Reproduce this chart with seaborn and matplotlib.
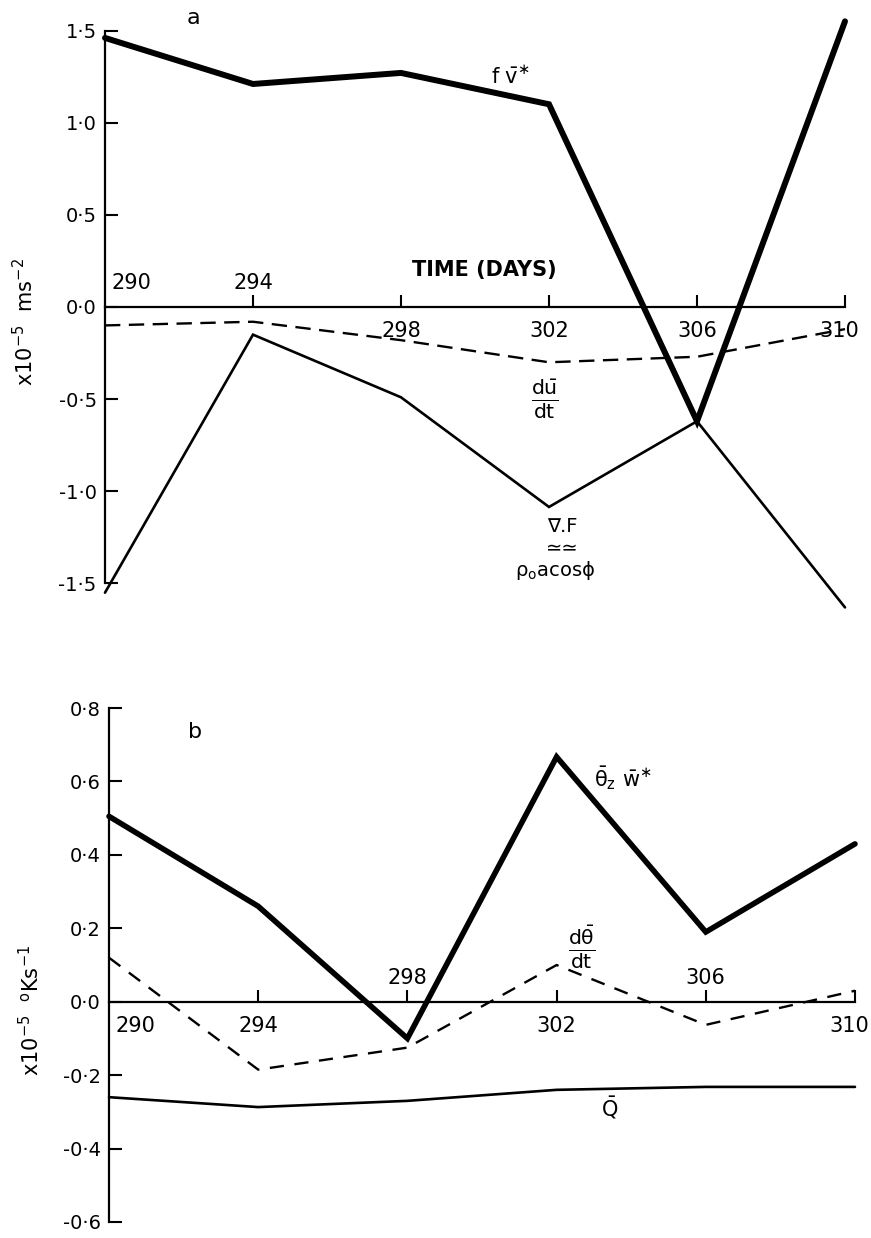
import numpy as np
import pandas as pd
import matplotlib
matplotlib.use('Agg')
import matplotlib.pyplot as plt
import seaborn as sns
from matplotlib.ticker import FuncFormatter

#%% data
days = [290, 294, 298, 302, 306, 310]

# panel a, x10^-5 m s^-2
fv_star = [1.46, 1.21, 1.27, 1.10, -0.62, 1.55]
du_dt = [-0.10, -0.08, -0.18, -0.30, -0.27, -0.12]
div_f = [-1.55, -0.15, -0.49, -1.085, -0.62, -1.63]

# panel b, x10^-5 K s^-1
thz_w = [0.505, 0.26, -0.10, 0.667, 0.19, 0.43]
dth_dt = [0.12, -0.185, -0.125, 0.10, -0.063, 0.03]
q_bar = [-0.26, -0.287, -0.27, -0.24, -0.232, -0.232]

yticks_a = [-1.5, -1.0, -0.5, 0.0, 0.5, 1.0, 1.5]
yticks_b = [-0.6, -0.4, -0.2, 0.0, 0.2, 0.4, 0.6, 0.8]
xticks = [294, 298, 302, 306, 310]
# day label above (1) or below (-1) the time axis
side_a = [1, 1, -1, -1, -1, -1]
side_b = [-1, -1, 1, -1, 1, -1]

#%% style
sns.set_style('ticks')
plt.rcParams['font.family'] = ['DejaVu Sans']
plt.rcParams['text.color'] = 'k'
plt.rcParams['mathtext.default'] = 'regular'
plt.rcParams['mathtext.fontset'] = 'dejavusans'

fmt = FuncFormatter(lambda v, p: f'{v:.1f}'.replace('.', '\u00b7'))

fig = plt.figure(figsize=(8.71, 12.38), dpi=100)
ax_a = fig.add_axes([0.12055, 0.50638, 0.8496, 0.48384])
ax_b = fig.add_axes([0.12514, 0.0070, 0.85649, 0.42700])


def style_axis(ax, ylim, yticks, side):
    ax.set_xlim(290, 310)
    ax.set_ylim(*ylim)
    for s in ['top', 'right']:
        ax.spines[s].set_visible(False)
    ax.spines['bottom'].set_position(('data', 0))
    ax.spines['bottom'].set_bounds(290, 310)
    ax.spines['left'].set_bounds(yticks[0], yticks[-1])
    for s in ['bottom', 'left']:
        ax.spines[s].set_linewidth(1.6)
        ax.spines[s].set_color('k')
    ax.set_xticks(xticks)
    ax.set_yticks(yticks)
    ax.yaxis.set_major_formatter(fmt)
    ax.tick_params(axis='both', direction='in', length=9, width=1.5,
                   labelsize=14, colors='k', labelcolor='k', pad=6)
    ax.tick_params(axis='x', labelbottom=False)
    ax.set_xlabel('')
    ax.set_ylabel('')
    ax.patch.set_alpha(0)
    # day labels alternate above / below the axis line
    for d, s in zip(days, side):
        dx = 7 if d == 290 else (-6 if d == 310 else 0)
        ax.annotate(str(d), xy=(d, 0), xytext=(dx, 24 * s), textcoords='offset pixels',
                    ha='left' if d == 290 else 'center', va='center', fontsize=15)


#%% panel a
sns.lineplot(x=days, y=fv_star, color='k', lw=4.3, ax=ax_a, clip_on=False,
             solid_joinstyle='miter')
sns.lineplot(x=days, y=du_dt, color='k', lw=1.7, ax=ax_a, clip_on=False,
             linestyle=(0, (6.5, 3.6)))
sns.lineplot(x=days, y=div_f, color='k', lw=1.9, ax=ax_a, clip_on=False,
             solid_joinstyle='miter')
style_axis(ax_a, (-1.65, 1.6), yticks_a, side_a)

ax_a.text(292.38, 1.57, 'a', fontsize=16, ha='center', va='center')
ax_a.text(300.95, 1.25, r'f $\bar{v}^{\ast}$', fontsize=15, ha='center', va='center')
ax_a.text(300.24, 0.20, 'TIME (DAYS)', fontsize=15, fontweight='bold', ha='center', va='center')
ax_a.text(301.9, -0.50, r'$\frac{d\bar{u}}{dt}$', fontsize=21, ha='center', va='center')
ax_a.text(302.35, -1.19, '\u2207.F', fontsize=14, ha='center', va='center')
ax_a.text(302.35, -1.31, '\u2243\u2243', fontsize=14, ha='center', va='center')
ax_a.text(302.16, -1.43, r'$\rho_o$acos$\phi$', fontsize=14, ha='center', va='center')

fig.text(25 / 871, 1 - 322 / 1238, r'x10$^{-5}$  ms$^{-2}$', rotation=90,
         fontsize=15, ha='center', va='center')

#%% panel b
sns.lineplot(x=days, y=thz_w, color='k', lw=4.0, ax=ax_b, clip_on=False,
             solid_joinstyle='miter')
sns.lineplot(x=days, y=dth_dt, color='k', lw=1.7, ax=ax_b, clip_on=False,
             linestyle=(0, (6, 4.5)))
sns.lineplot(x=days, y=q_bar, color='k', lw=1.9, ax=ax_b, clip_on=False)
style_axis(ax_b, (-0.62, 0.82), yticks_b, side_b)

ax_b.text(292.3, 0.735, 'b', fontsize=16, ha='center', va='center')
ax_b.text(303.78, 0.61, r'$\bar{\theta}_z\ \bar{w}^{\ast}$', fontsize=15, ha='center', va='center')
ax_b.text(302.68, 0.15, r'$\frac{d\bar{\theta}}{dt}$', fontsize=21, ha='center', va='center')
ax_b.text(303.43, -0.29, r'$\bar{Q}$', fontsize=15, ha='center', va='center')

fig.text(31 / 871, 1 - 1010 / 1238, r'x10$^{-5}$  $^{o}$Ks$^{-1}$', rotation=90,
         fontsize=15, ha='center', va='center')

fig.savefig('out.png', dpi=100)
